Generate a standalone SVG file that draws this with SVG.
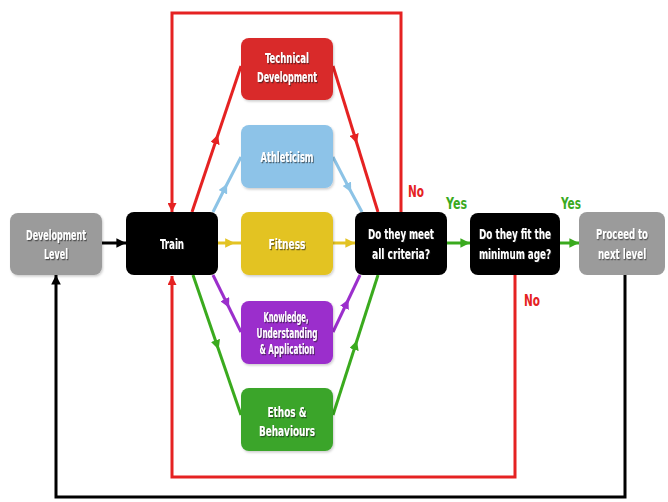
<svg xmlns="http://www.w3.org/2000/svg" width="668" height="502" viewBox="0 0 668 502">
<style>
.box{stroke:none}
.t{font-family:"DejaVu Sans Condensed","Liberation Sans Narrow","Roboto Condensed",sans-serif;font-weight:bold;font-size:14px;fill:#ffffff;text-anchor:middle;filter:url(#ts)}
.lbl{font-family:"DejaVu Sans Condensed","Liberation Sans Narrow",sans-serif;font-weight:bold;font-size:16px}
.ln{fill:none;stroke-width:3}
</style>
<defs>
<filter id="ts" x="-3%" y="-20%" width="110%" height="150%"><feDropShadow dx="1" dy="1.2" stdDeviation="0.6" flood-color="#222" flood-opacity="0.6"/></filter>
<filter id="bs" x="-10%" y="-10%" width="125%" height="130%"><feDropShadow dx="1" dy="1.5" stdDeviation="1.2" flood-color="#000" flood-opacity="0.2"/></filter>
<marker id="mR" viewBox="0 0 10 10" refX="5" refY="5" markerWidth="3.2" markerHeight="3.2" orient="auto"><path d="M0,0L10,5L0,10z" fill="#e52222"/></marker>
<marker id="eR" viewBox="0 0 10 10" refX="10" refY="5" markerWidth="3" markerHeight="3" orient="auto"><path d="M0,0L10,5L0,10z" fill="#e52222"/></marker>
<marker id="mB" viewBox="0 0 10 10" refX="5" refY="5" markerWidth="3.2" markerHeight="3.2" orient="auto"><path d="M0,0L10,5L0,10z" fill="#8cc3e6"/></marker>
<marker id="mY" viewBox="0 0 10 10" refX="5" refY="5" markerWidth="3.2" markerHeight="3.2" orient="auto"><path d="M0,0L10,5L0,10z" fill="#e3c323"/></marker>
<marker id="eY" viewBox="0 0 10 10" refX="10" refY="5" markerWidth="3.2" markerHeight="3.2" orient="auto"><path d="M0,0L10,5L0,10z" fill="#e3c323"/></marker>
<marker id="mP" viewBox="0 0 10 10" refX="5" refY="5" markerWidth="3.2" markerHeight="3.2" orient="auto"><path d="M0,0L10,5L0,10z" fill="#9b2fcc"/></marker>
<marker id="mG" viewBox="0 0 10 10" refX="5" refY="5" markerWidth="3.2" markerHeight="3.2" orient="auto"><path d="M0,0L10,5L0,10z" fill="#3aaa1e"/></marker>
<marker id="eG" viewBox="0 0 10 10" refX="10" refY="5" markerWidth="3.2" markerHeight="3.2" orient="auto"><path d="M0,0L10,5L0,10z" fill="#3aaa1e"/></marker>
<marker id="eK" viewBox="0 0 10 10" refX="10" refY="5" markerWidth="3.2" markerHeight="3.2" orient="auto"><path d="M0,0L10,5L0,10z" fill="#000"/></marker>
</defs>
<rect width="668" height="502" fill="#ffffff"/>

<g id="connectors">
<path class="ln" d="M401,212V13H172V212" stroke="#e52222" stroke-width="4" marker-end="url(#eR)"/>
<path class="ln" d="M515,275V477H172V276" stroke="#e52222" stroke-width="4" marker-end="url(#eR)"/>
<path class="ln" d="M625,275V497H56V275" stroke="#000" stroke-width="3" marker-end="url(#eK)"/>
<path class="ln" d="M102,243H126" stroke="#000" stroke-width="3.5" marker-end="url(#eK)"/>
<polyline class="ln" points="192,212 216.5,139 241,66" stroke="#e52222" marker-mid="url(#mR)"/>
<polyline class="ln" points="333,66 355.5,139 378,212" stroke="#e52222" marker-mid="url(#mR)"/>
<polyline class="ln" points="213,212 225,188 241,157" stroke="#8cc3e6" marker-mid="url(#mB)"/>
<polyline class="ln" points="333,157 349,188 362,212" stroke="#8cc3e6" marker-mid="url(#mB)"/>
<polyline class="ln" points="218,243 230,243 241,243" stroke="#e3c323" marker-mid="url(#mY)"/>
<path class="ln" d="M333,243H355" stroke="#e3c323" marker-end="url(#eY)"/>
<polyline class="ln" points="213,275 227,303.5 241,332" stroke="#9b2fcc" marker-mid="url(#mP)"/>
<polyline class="ln" points="333,332 346.5,303.5 360,275" stroke="#9b2fcc" marker-mid="url(#mP)"/>
<polyline class="ln" points="193,275 217,345 241,415" stroke="#3aaa1e" marker-mid="url(#mG)"/>
<polyline class="ln" points="333,415 355.5,345 378,275" stroke="#3aaa1e" marker-mid="url(#mG)"/>
<path class="ln" d="M447,243H470" stroke="#3aaa1e" stroke-width="3.5" marker-end="url(#eG)"/>
<path class="ln" d="M560,243H579" stroke="#3aaa1e" stroke-width="3.5" marker-end="url(#eG)"/>
<text class="lbl" x="408" y="197" fill="#e52222" textLength="16" lengthAdjust="spacingAndGlyphs">No</text>
<text class="lbl" x="446" y="209" fill="#3aaa1e" textLength="21" lengthAdjust="spacingAndGlyphs">Yes</text>
<text class="lbl" x="561" y="209" fill="#3aaa1e" textLength="20" lengthAdjust="spacingAndGlyphs">Yes</text>
<text class="lbl" x="524" y="306" fill="#e52222" textLength="16" lengthAdjust="spacingAndGlyphs">No</text>
</g>

<g id="dev"><rect class="box" x="10" y="213" width="92" height="62" rx="8" fill="#9b9b9b" filter="url(#bs)"/><text class="t" x="56" y="240" textLength="60" lengthAdjust="spacingAndGlyphs">Development</text><text class="t" x="56" y="259" textLength="24" lengthAdjust="spacingAndGlyphs">Level</text></g>
<g id="train"><rect class="box" x="126" y="212" width="92" height="63" rx="8" fill="#000"/><text class="t" x="172" y="249" font-size="15" textLength="24" lengthAdjust="spacingAndGlyphs">Train</text></g>
<g id="tech"><rect class="box" x="241" y="38" width="92" height="62" rx="8" fill="#d92b2b" filter="url(#bs)"/><text class="t" x="287" y="63" textLength="44" lengthAdjust="spacingAndGlyphs">Technical</text><text class="t" x="287" y="82" textLength="60" lengthAdjust="spacingAndGlyphs">Development</text></g>
<g id="ath"><rect class="box" x="241" y="125" width="92" height="63" rx="8" fill="#8dc3e8" filter="url(#bs)"/><text class="t" x="287" y="162" textLength="53" lengthAdjust="spacingAndGlyphs">Athleticism</text></g>
<g id="fitness"><rect class="box" x="241" y="212" width="92" height="63" rx="8" fill="#e3c323" filter="url(#bs)"/><text class="t" x="287" y="249" textLength="37" lengthAdjust="spacingAndGlyphs">Fitness</text></g>
<g id="know"><rect class="box" x="241" y="301" width="92" height="63" rx="8" fill="#9b2fcc" filter="url(#bs)"/><text class="t" x="286" y="322" font-size="13" textLength="45" lengthAdjust="spacingAndGlyphs">Knowledge,</text><text class="t" x="287" y="338" font-size="13" textLength="61" lengthAdjust="spacingAndGlyphs">Understanding</text><text class="t" x="287" y="354" font-size="13" textLength="55" lengthAdjust="spacingAndGlyphs">&amp; Application</text></g>
<g id="ethos"><rect class="box" x="241" y="388" width="92" height="63" rx="8" fill="#3aa52a" filter="url(#bs)"/><text class="t" x="287" y="417" textLength="39" lengthAdjust="spacingAndGlyphs">Ethos &amp;</text><text class="t" x="287" y="436" textLength="56" lengthAdjust="spacingAndGlyphs">Behaviours</text></g>
<g id="meet"><rect class="box" x="355" y="212" width="92" height="63" rx="8" fill="#000"/><text class="t" x="401" y="239" font-size="15" textLength="66" lengthAdjust="spacingAndGlyphs">Do they meet</text><text class="t" x="401" y="259" font-size="15" textLength="58" lengthAdjust="spacingAndGlyphs">all criteria?</text></g>
<g id="age"><rect class="box" x="470" y="213" width="90" height="62" rx="8" fill="#000"/><text class="t" x="515" y="239" font-size="15" textLength="72" lengthAdjust="spacingAndGlyphs">Do they fit the</text><text class="t" x="515" y="259" font-size="15" textLength="72" lengthAdjust="spacingAndGlyphs">minimum age?</text></g>
<g id="proceed"><rect class="box" x="579" y="212" width="86" height="63" rx="8" fill="#9b9b9b"/><text class="t" transform="translate(622,239) scale(0.72,1)" x="0" y="0" font-size="14" textLength="72" lengthAdjust="spacingAndGlyphs">Proceed to</text><text class="t" transform="translate(622,259) scale(0.72,1)" x="0" y="0" font-size="14" textLength="67" lengthAdjust="spacingAndGlyphs">next level</text></g>
</svg>
